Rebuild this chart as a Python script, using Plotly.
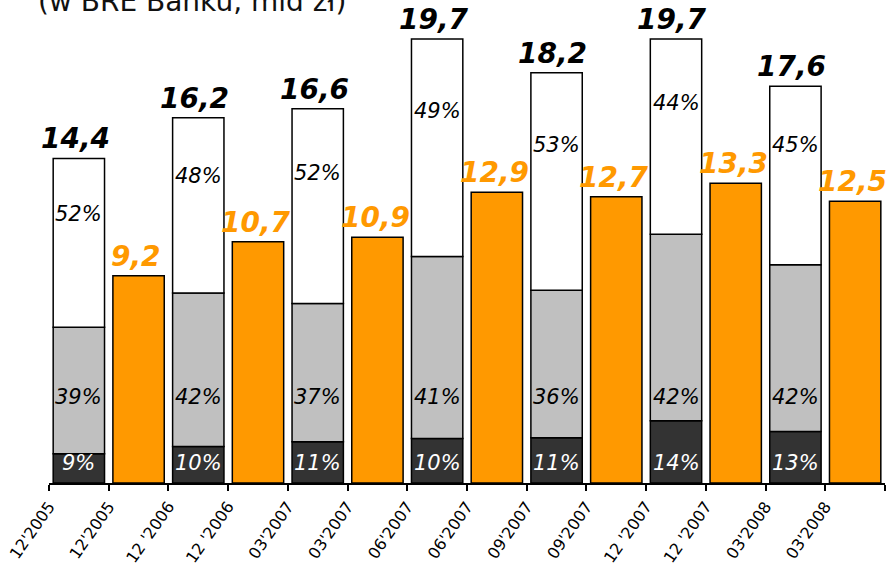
import plotly.graph_objects as go

# stacked bars (total and composition in %), orange bars in between
periods = ["12'2005", "12 '2006", "03'2007", "06'2007", "09'2007", "12 '2007", "03'2008"]
totals = [14.4, 16.2, 16.6, 19.7, 18.2, 19.7, 17.6]
pct_dark = [9, 10, 11, 10, 11, 14, 13]
pct_gray = [39, 42, 37, 41, 36, 42, 42]
pct_white = [52, 48, 52, 49, 53, 44, 45]
orange_vals = [9.2, 10.7, 10.9, 12.9, 12.7, 13.3, 12.5]
tick_labels = [p for p in periods for _ in (0, 1)]

DARK = "#333333"
GRAY = "#C0C0C0"
ORANGE = "#FF9900"
FONT = "DejaVu Sans"
PX_PER_UNIT = 22.54
PLOT_H = 483

x_stack = [2 * i + 0.5 for i in range(len(periods))]
x_orange = [2 * i + 1.5 for i in range(len(periods))]

seg_dark = [t * p / 100 for t, p in zip(totals, pct_dark)]
seg_gray = [t * p / 100 for t, p in zip(totals, pct_gray)]
seg_white = [t - d - g for t, d, g in zip(totals, seg_dark, seg_gray)]

fig = go.Figure()
line = dict(color="black", width=1.5)
W = 0.86
fig.add_trace(go.Bar(x=x_stack, y=seg_dark, width=W, marker=dict(color=DARK, line=line)))
fig.add_trace(go.Bar(x=x_stack, y=seg_gray, width=W, marker=dict(color=GRAY, line=line)))
fig.add_trace(go.Bar(x=x_stack, y=seg_white, width=W, marker=dict(color="white", line=line)))
fig.add_trace(go.Bar(x=x_orange, y=orange_vals, width=W, marker=dict(color=ORANGE, line=line)))

ann = []
for i, x in enumerate(x_stack):
    t = totals[i]
    ann.append(dict(x=x - 0.06, y=t, text=f"{t:.1f}".replace(".", ","), yanchor="bottom",
                    yshift=1, font=dict(family=FONT, size=28, color="black", weight="bold", style="italic")))
    ann.append(dict(x=x, y=t - 0.33 * seg_white[i], text=f"{pct_white[i]}%",
                    font=dict(family=FONT, size=21, color="black", style="italic")))
    ann.append(dict(x=x, y=3.8, text=f"{pct_gray[i]}%",
                    font=dict(family=FONT, size=21, color="black", style="italic")))
    ann.append(dict(x=x, y=0.9, text=f"{pct_dark[i]}%",
                    font=dict(family=FONT, size=21, color="white", style="italic")))
for x, v in zip(x_orange, orange_vals):
    ann.append(dict(x=x - 0.04, y=v, text=f"{v:.1f}".replace(".", ","), yanchor="bottom",
                    yshift=1, font=dict(family=FONT, size=28, color=ORANGE, weight="bold", style="italic")))
for a in ann:
    a.update(xref="x", yref="y", showarrow=False)

ann.append(dict(xref="paper", yref="paper", x=-0.016, y=1 - 20 / PLOT_H, xanchor="left",
                yanchor="bottom", showarrow=False, text="(w BRE Banku, mld zł)",
                font=dict(family=FONT, size=28, color="#111111")))

fig.update_layout(
    width=889, height=567,
    margin=dict(l=49, r=4, t=0, b=567 - PLOT_H),
    barmode="relative",
    showlegend=False,
    plot_bgcolor="white", paper_bgcolor="white",
    annotations=ann,
    xaxis=dict(range=[0, 14], tickmode="array", tickvals=list(range(15)),
               ticktext=tick_labels + [""], tickangle=-55, ticks="outside", ticklen=6,
               tickcolor="black", tickwidth=1.5, showline=True, linecolor="black", linewidth=1.5,
               showgrid=False, zeroline=False, fixedrange=True,
               tickfont=dict(family=FONT, size=16, color="black")),
    yaxis=dict(range=[0, PLOT_H / PX_PER_UNIT], visible=False, fixedrange=True),
)

fig.write_html("out.html", config={"displayModeBar": False},
               post_script="document.body.style.margin='0';")
